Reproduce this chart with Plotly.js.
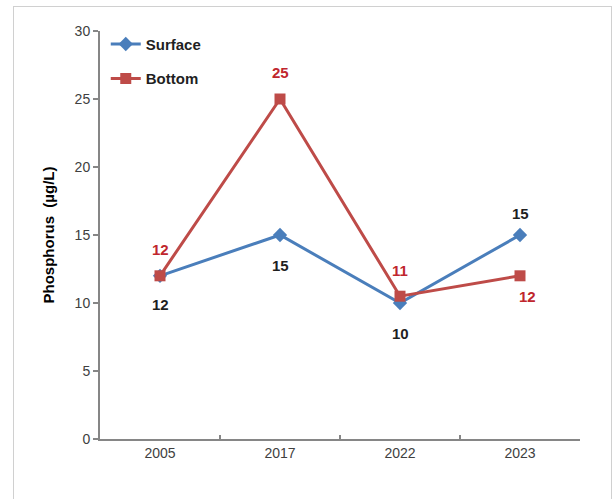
<!DOCTYPE html>
<html>
<head>
<meta charset="utf-8">
<script src="https://cdn.plot.ly/plotly-3.0.1.min.js"></script>
<style>
html,body{margin:0;padding:0;background:#fff;}
#chart{position:absolute;left:0;top:0;width:615px;height:499px;}
#frame{position:absolute;left:13px;top:6px;width:599px;height:494px;border:1px solid #d0d0d0;box-sizing:border-box;pointer-events:none;}
</style>
</head>
<body>
<div id="chart"></div>
<div id="frame"></div>
<script>
// Data
const years = ['2005', '2017', '2022', '2023'];
const surface = [12, 15, 10, 15];
const bottom = [12, 25, 10.5, 12];
const surfaceLabels = ['12', '15', '10', '15'];
const bottomLabels = ['12', '25', '11', '12'];
const yTicks = [0, 5, 10, 15, 20, 25, 30];

// Label placement (style, not data)
const surfaceShift = [-29, -30, -30, 22];
const bottomShift = [26, 27, 26, -21];
const bottomXShift = [0, 0, 0, 7];

const FONT = 'Liberation Sans, Arial, sans-serif';
const blue = '#4A7EBB';
const red = '#BE4B48';

const traces = [
  {
    x: years, y: surface, name: 'Surface', type: 'scatter', mode: 'lines+markers',
    line: {color: blue, width: 3},
    marker: {symbol: 'diamond', size: 11, color: blue},
    legendgroup: 'a'
  },
  {
    x: years, y: bottom, name: 'Bottom', type: 'scatter', mode: 'lines+markers',
    line: {color: red, width: 3},
    marker: {symbol: 'square', size: 11, color: red},
    legendgroup: 'b'
  }
];

const annotations = [];
years.forEach((yr, i) => {
  annotations.push({
    xref: 'x', yref: 'y',
    x: i, y: surface[i], text: '<b>' + surfaceLabels[i] + '</b>', showarrow: false,
    yshift: surfaceShift[i], font: {family: FONT, size: 15, color: '#1F1F1F'}
  });
  annotations.push({
    xref: 'x', yref: 'y',
    x: i, y: bottom[i], text: '<b>' + bottomLabels[i] + '</b>', showarrow: false,
    yshift: bottomShift[i], xshift: bottomXShift[i],
    font: {family: FONT, size: 15, color: '#C0262D'}
  });
});

const layout = {
  width: 615, height: 499,
  margin: {l: 100, r: 35, t: 31, b: 60},
  paper_bgcolor: '#ffffff', plot_bgcolor: '#ffffff',
  font: {family: FONT, size: 14, color: '#404040'},
  showlegend: true,
  legend: {
    x: 0.012, y: 1.008, xanchor: 'left', yanchor: 'top',
    bgcolor: 'rgba(0,0,0,0)',
    font: {family: FONT, size: 15, color: '#1F1F1F', weight: 'bold'},
    tracegroupgap: 12
  },
  xaxis: {
    type: 'category', range: [-0.5, 3.5],
    showline: true, linecolor: '#868686', linewidth: 2,
    ticks: 'inside', tickson: 'boundaries', ticklen: 4, tickcolor: '#868686', tickwidth: 2,
    showgrid: false, zeroline: false,
    tickfont: {family: FONT, size: 14, color: '#404040'}
  },
  yaxis: {
    range: [0, 30], tickvals: yTicks, ticktext: yTicks.map(String),
    showline: true, linecolor: '#868686', linewidth: 2,
    ticks: 'outside', ticklen: 5, tickcolor: '#868686', tickwidth: 2,
    showgrid: false, zeroline: false,
    tickfont: {family: FONT, size: 14, color: '#404040'},
    title: {text: 'Phosphorus  (µg/L)', standoff: 16,
      font: {family: FONT, size: 15, color: '#000000', weight: 'bold'}}
  },
  annotations: annotations
};

Plotly.newPlot('chart', traces, layout, {displayModeBar: false, staticPlot: true});
</script>
</body>
</html>
